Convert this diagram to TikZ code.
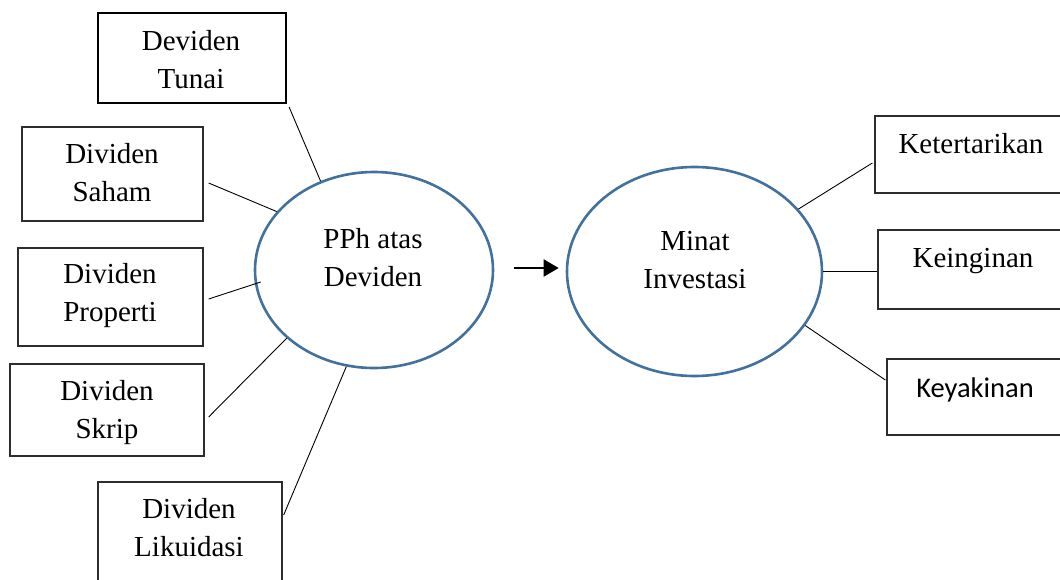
\documentclass[tikz,border=0pt]{standalone}
\usepackage{fontspec}
\setmainfont{Liberation Serif}
\newfontfamily\calibrifont{Carlito}
\usetikzlibrary{arrows.meta,shapes.geometric}
\definecolor{ellblue}{RGB}{65,113,156}
\definecolor{boxgray}{RGB}{45,45,45}
\begin{document}
\begin{tikzpicture}[x=1pt,y=-1pt,
  box/.style={draw=boxgray,line width=1.3pt,rectangle,inner sep=0pt},
  lbl/.style={font=\fontsize{29}{38}\selectfont,align=center,inner sep=0pt},
  ell/.style={draw=ellblue,line width=2.6pt,ellipse,inner sep=0pt},
  link/.style={draw=black,line width=0.9pt},
  arrowlink/.style={draw=black,line width=2pt,-{Triangle[length=15pt,width=17pt]}}
]
\useasboundingbox (0,0) rectangle (1060,579);

% boxes (left)
\node[box,draw=black,line width=2.3pt,minimum width=188pt,minimum height=90pt] (tunai) at (192,58) {};
\node[box,minimum width=181pt,minimum height=94pt] (saham) at (112.5,174) {};
\node[box,minimum width=185pt,minimum height=98pt] (prop) at (110.5,297) {};
\node[box,minimum width=194pt,minimum height=92pt] (skrip) at (107,410) {};
\node[box,minimum width=184pt,minimum height=103pt] (likuid) at (190,533.5) {};

% boxes (right)
\node[box,minimum width=194pt,minimum height=77pt] (keter) at (972,154.5) {};
\node[box,minimum width=191pt,minimum height=79pt] (kein) at (973.5,269.5) {};
\node[box,minimum width=182pt,minimum height=76pt] (keyak) at (978,397) {};

% ellipses
\node[ell,minimum width=238pt,minimum height=196pt] (pph) at (374,270) {};
\node[ell,minimum width=255pt,minimum height=209pt] (minat) at (694.5,271.5) {};

% texts
\node[lbl] (tunaiT) at (191,59.5) {Deviden\\Tunai};
\node[lbl] (sahamT) at (112,172.5) {Dividen\\Saham};
\node[lbl] (propT) at (110,295.5) {Dividen\\Properti};
\node[lbl] (skripT) at (107,412.5) {Dividen\\Skrip};
\node[lbl] (likuidT) at (189,527.5) {Dividen\\Likuidasi};
\node[lbl] (pphT) at (373,257.5) {PPh atas\\Deviden};
\node[lbl] (minatT) at (695,259.75) {Minat\\Investasi};
\node[lbl,anchor=base] (keterT) at (971,153) {Ketertarikan};
\node[lbl,anchor=base] (keinT) at (973,267) {Keinginan};
\node[lbl,anchor=base,font=\calibrifont\fontsize{28.5}{34}\selectfont] (keyakT) at (975,397) {Keyakinan};

% connectors
\draw[link] ([xshift=2pt,yshift=-3pt]tunai.south east) -- (pph.121.5);
\draw[link] ([xshift=5pt,yshift=-9pt]saham.east) -- (pph.149.6);
\draw[link] ([xshift=5pt,yshift=-2pt]prop.east) -- ([xshift=7pt,yshift=-12pt]pph.west);
\draw[link] ([xshift=4pt,yshift=-7pt]skrip.east) -- (pph.218.9);
\draw[link] ([xshift=1pt,yshift=18.5pt]likuid.east) -- (pph.254.7);
\draw[link] (minat.31.9) -- ([xshift=-2pt,yshift=-8.5pt]keter.west);
\draw[link] (minat.east) -- (minat.east -| kein.west);
\draw[link] (minat.-26) -- ([xshift=-1pt,yshift=17pt]keyak.west);

% arrow
\coordinate (arrS) at ([xshift=20pt,yshift=2pt]pph.east);
\draw[arrowlink,shorten >=7pt] (arrS) -- (arrS -| minat.west);
\end{tikzpicture}
\end{document}
